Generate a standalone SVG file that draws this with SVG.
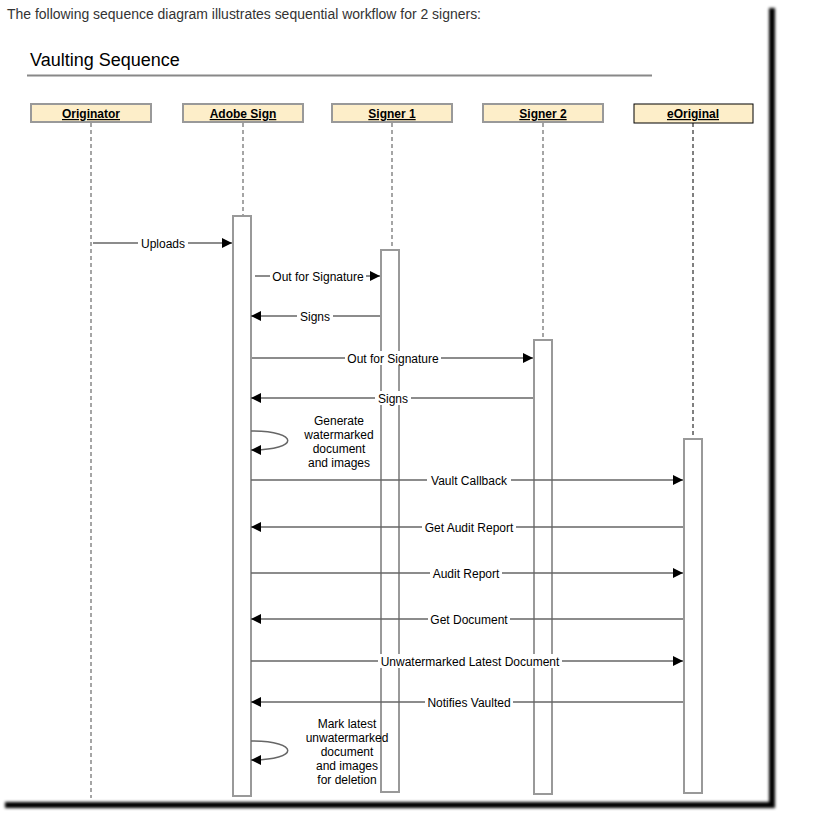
<svg xmlns="http://www.w3.org/2000/svg" width="830" height="815" viewBox="0 0 830 815">
<style>
text{font-family:"Liberation Sans",Arial,sans-serif;fill:#000}
.hdr rect{fill:#fdeec9;stroke:#999;stroke-width:2}
.hdr text{font-size:12px;font-weight:bold;text-decoration:underline;text-anchor:middle}
.life{stroke:#888;stroke-width:1.5;stroke-dasharray:4,3;fill:none}
.hdr rect.act{fill:#fff;stroke:#999;stroke-width:2}
.msg{stroke:#666;stroke-width:1.5;fill:none}
.lbl{font-size:12px;text-anchor:middle}
.bg{fill:#fff}
</style>
<defs>
<marker id="ah" viewBox="0 0 10 10" refX="10" refY="5" markerWidth="10" markerHeight="10" markerUnits="userSpaceOnUse" orient="auto">
<path d="M0,0 L10,5 L0,10 z" fill="#000"/>
</marker>
<filter id="sh" x="-50%" y="-5%" width="200%" height="110%"><feGaussianBlur stdDeviation="1.5"/></filter>
</defs>
<rect width="830" height="815" fill="#fff"/>
<g id="frame">
<path d="M772,8 L772,805 L5,805" stroke="#000" stroke-width="6" fill="none" filter="url(#sh)"/>
</g>
<text x="7" y="19" textLength="474" lengthAdjust="spacingAndGlyphs" style="font-size:14px;fill:#333">The following sequence diagram illustrates sequential workflow for 2 signers:</text>
<text x="30" y="66" style="font-size:18px">Vaulting Sequence</text>
<line x1="27" y1="75.5" x2="652" y2="75.5" stroke="#888" stroke-width="2"/>

<g id="lifelines">
<line class="life" x1="91" y1="123" x2="91" y2="798"/>
<line class="life" x1="243" y1="123" x2="243" y2="216"/>
<line class="life" x1="392" y1="123" x2="392" y2="250"/>
<line class="life" x1="543" y1="123" x2="543" y2="340"/>
<line class="life" x1="693" y1="123" x2="693" y2="439" style="stroke:#000;stroke-width:1"/>
</g>

<g id="originator" class="hdr"><rect x="31" y="104" width="120" height="18"/><text x="91" y="118">Originator</text></g>
<g id="adobe-sign" class="hdr"><rect x="183" y="104" width="120" height="18"/><text x="243" y="118">Adobe Sign</text><rect class="act" x="233" y="216" width="18" height="580"/></g>
<g id="signer1" class="hdr"><rect x="332" y="104" width="120" height="18"/><text x="392" y="118">Signer 1</text><rect class="act" x="381" y="250" width="18" height="542"/></g>
<g id="signer2" class="hdr"><rect x="483" y="104" width="120" height="18"/><text x="543" y="118">Signer 2</text><rect class="act" x="534" y="340" width="18" height="454"/></g>
<g id="eoriginal" class="hdr"><rect x="634" y="104" width="119" height="19" style="stroke:#000;stroke-width:1"/><text x="693" y="118">eOriginal</text><rect class="act" x="684" y="439" width="18" height="354"/></g>

<g id="connectors">
<line class="msg" x1="93" y1="243" x2="232" y2="243" marker-end="url(#ah)"/>
<rect class="bg" x="138" y="236" width="50" height="14"/><text class="lbl" x="163" y="247.5">Uploads</text>

<line class="msg" x1="255" y1="276" x2="380" y2="276" marker-end="url(#ah)"/>
<rect class="bg" x="270" y="269" width="96" height="14"/><text class="lbl" x="318" y="280.5">Out for Signature</text>

<line class="msg" x1="380" y1="316" x2="251" y2="316" marker-end="url(#ah)"/>
<rect class="bg" x="297" y="309" width="36" height="14"/><text class="lbl" x="315" y="320.5">Signs</text>

<line class="msg" x1="252" y1="358" x2="533" y2="358" marker-end="url(#ah)"/>
<rect class="bg" x="345" y="351" width="96" height="14"/><text class="lbl" x="393" y="362.5">Out for Signature</text>

<line class="msg" x1="533" y1="398" x2="251" y2="398" marker-end="url(#ah)"/>
<rect class="bg" x="375" y="391" width="36" height="14"/><text class="lbl" x="393" y="402.5">Signs</text>

<path class="msg" d="M251,431 C300,431 300,450 251,450" marker-end="url(#ah)"/>
<text class="lbl" x="339" y="425">Generate</text>
<text class="lbl" x="339" y="439">watermarked</text>
<text class="lbl" x="339" y="453">document</text>
<text class="lbl" x="339" y="467">and images</text>

<line class="msg" x1="251" y1="480" x2="683" y2="480" marker-end="url(#ah)"/>
<rect class="bg" x="427" y="473" width="84" height="14"/><text class="lbl" x="469" y="484.5">Vault Callback</text>

<line class="msg" x1="683" y1="527" x2="251" y2="527" marker-end="url(#ah)"/>
<rect class="bg" x="422" y="520" width="94" height="14"/><text class="lbl" x="469" y="531.5">Get Audit Report</text>

<line class="msg" x1="251" y1="573" x2="683" y2="573" marker-end="url(#ah)"/>
<rect class="bg" x="430" y="566" width="72" height="14"/><text class="lbl" x="466" y="577.5">Audit Report</text>

<line class="msg" x1="683" y1="619" x2="251" y2="619" marker-end="url(#ah)"/>
<rect class="bg" x="428" y="612" width="82" height="14"/><text class="lbl" x="469" y="623.5">Get Document</text>

<line class="msg" x1="251" y1="661" x2="683" y2="661" marker-end="url(#ah)"/>
<rect class="bg" x="378" y="654" width="184" height="14"/><text class="lbl" x="470" y="665.5">Unwatermarked Latest Document</text>

<line class="msg" x1="683" y1="702" x2="251" y2="702" marker-end="url(#ah)"/>
<rect class="bg" x="425" y="695" width="88" height="14"/><text class="lbl" x="469" y="706.5">Notifies Vaulted</text>

<path class="msg" d="M251,741 C300,741 300,760 251,760" marker-end="url(#ah)"/>
<text class="lbl" x="347" y="728">Mark latest</text>
<text class="lbl" x="347" y="742">unwatermarked</text>
<text class="lbl" x="347" y="756">document</text>
<text class="lbl" x="347" y="770">and images</text>
<text class="lbl" x="347" y="784">for deletion</text>
</g>
</svg>
